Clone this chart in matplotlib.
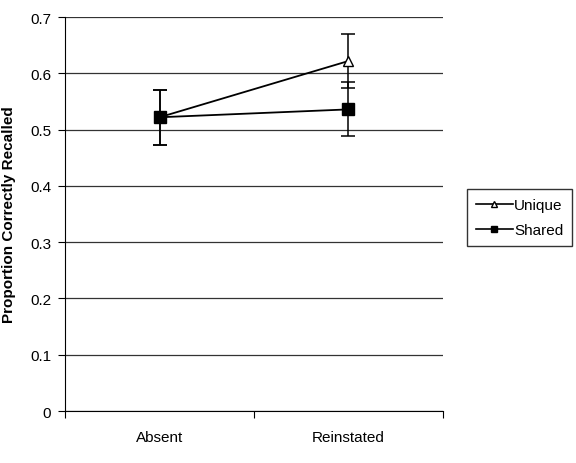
import numpy as np
import matplotlib
matplotlib.use('Agg')
from matplotlib import pyplot as plt
from matplotlib.lines import Line2D

plt.rcParams['font.family'] = ['Liberation Sans', 'DejaVu Sans']

conditions = ['Absent', 'Reinstated']
unique_mean = [0.522, 0.622]
unique_err = [0.049, 0.048]
shared_mean = [0.522, 0.536]
shared_err = [0.049, 0.048]

fig = plt.figure(figsize=(5.76, 4.64), dpi=100)
ax = fig.add_axes([0.113, 0.112, 0.656, 0.849])

x = np.arange(len(conditions)) + 0.5

ax.errorbar(x, unique_mean, yerr=unique_err, color='black', lw=1.3,
            marker='^', markersize=7, markerfacecolor='white', markeredgecolor='black',
            capsize=5, elinewidth=1.1, capthick=1.1, zorder=3)
ax.errorbar(x, shared_mean, yerr=shared_err, color='black', lw=1.3,
            marker='s', markersize=8, markerfacecolor='black',
            capsize=5, elinewidth=1.1, capthick=1.1, zorder=4)

ax.set_xlim(0, 2)
ax.set_ylim(0, 0.7)
ax.set_yticks(np.arange(0, 0.71, 0.1))
ax.set_yticklabels(['0', '0.1', '0.2', '0.3', '0.4', '0.5', '0.6', '0.7'])
ax.set_xticks([0, 1, 2])
ax.set_xticklabels([])
ax.set_xticks(x, minor=True)
ax.set_xticklabels(conditions, minor=True)
ax.tick_params(axis='x', which='minor', length=0, pad=14, labelsize=11)
ax.tick_params(axis='x', which='major', length=5, direction='out')
ax.tick_params(axis='y', length=5, direction='out', labelsize=11, pad=5)

ax.yaxis.grid(True, color='#333333', lw=0.9)
ax.set_axisbelow(True)
for s in ['top', 'right']:
    ax.spines[s].set_visible(False)

ax.set_ylabel('Proportion Correctly Recalled', fontsize=11, fontweight='bold', labelpad=10)

handles = [
    Line2D([], [], color='black', lw=1.2, marker='^', markersize=5,
           markerfacecolor='white', markeredgecolor='black'),
    Line2D([], [], color='black', lw=1.2, marker='s', markersize=5,
           markerfacecolor='black'),
]
leg = fig.legend(handles, ['Unique', 'Shared'], loc='upper left', bbox_to_anchor=(0.797, 0.607),
                 frameon=True, fancybox=False, edgecolor='black', fontsize=11,
                 handlelength=2.4, handletextpad=0.1, borderpad=0.6, labelspacing=0.7)
leg.get_frame().set_linewidth(1.0)

fig.savefig('out.png', dpi=100)
